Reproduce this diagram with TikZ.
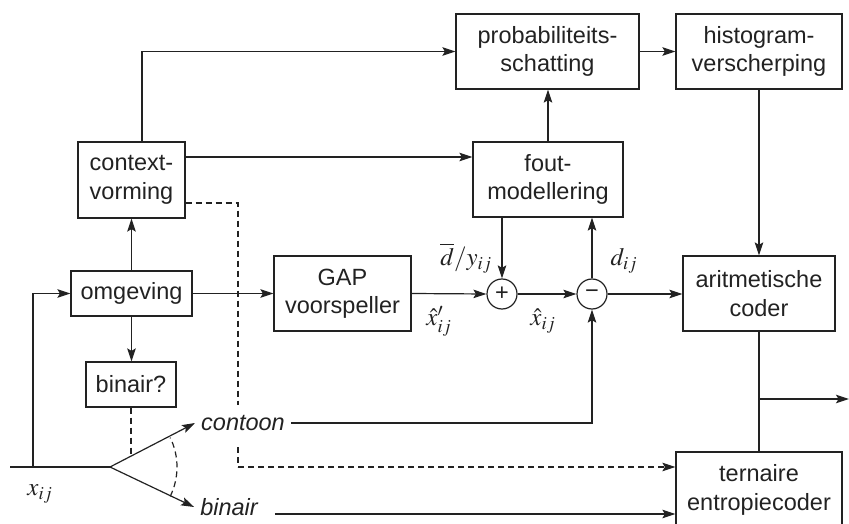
\documentclass[tikz,border=0pt]{standalone}
\usepackage{mathptmx}
\usepackage{fontspec}
\setmainfont{Liberation Sans}
\usetikzlibrary{arrows.meta}
\newcommand\boxfont{\fontsize{23.5}{28.5}\selectfont}
\newcommand\mathlbl{\fontsize{25}{28}\selectfont}
\definecolor{ink}{HTML}{222222}
\tikzset{
  box/.style={draw=ink, line width=1.2pt, inner sep=0pt, align=center, font=\boxfont, text=ink},
  sumnode/.style={draw=ink, line width=1.2pt, circle, inner sep=0pt, minimum size=30pt, font=\boxfont, text=ink},
  wire/.style={draw=ink, line width=1.2pt},
  arr/.style={wire, -{Stealth[length=13pt,width=8.5pt,inset=2.5pt]}},
  dwire/.style={wire, dash pattern=on 6pt off 4pt},
  lbl/.style={inner sep=0pt, font=\mathlbl, text=ink},
  itl/.style={inner xsep=6pt, inner ysep=2pt, font=\boxfont\itshape, text=ink},
}
\begin{document}
\begin{tikzpicture}[x=1pt,y=1pt]
\useasboundingbox (0,0) rectangle (849,-524);
% boxes
\node[box, minimum width=183, minimum height=75] (prob) at (547.5,-51.5) {probabiliteits-\\schatting};
\node[box, minimum width=166, minimum height=75] (histo) at (759,-51.5) {histogram-\\verscherping};
\node[box, minimum width=107, minimum height=76] (ctx) at (131.5,-180) {context-\\vorming};
\node[box, minimum width=150, minimum height=75] (fout) at (548,-179.5) {fout-\\modellering};
\node[box, minimum width=121, minimum height=45] (omg) at (131.5,-293.5) {omgeving};
\node[box, minimum width=137, minimum height=75] (gap) at (342.5,-293.5) {GAP\\voorspeller};
\node[box, minimum width=152, minimum height=75] (ari) at (759,-293.5) {aritmetische\\coder};
\node[box, minimum width=90, minimum height=45] (bin) at (131,-384.5) {binair?};
\node[box, minimum width=166, minimum height=76] (ter) at (759,-490) {ternaire\\entropiecoder};
\node[sumnode] (plus) at (502,-294) {+};
\node[sumnode] (minus) at (592,-294) {\char"2212};
\node[itl] (contoon) at (243,-423) {contoon};
\node[itl] (binair) at (229,-507) {binair};
% coordinates
\coordinate (in) at (10,-467);
\coordinate (tap) at (33,-467);
\coordinate (br) at (110,-467);
\coordinate (d1) at (238,-405);
\coordinate (d2) at (238,-447);
\coordinate (d3) at (238,-467);
\coordinate (tap2) at (759,-399);
\coordinate (out) at (849,-399);
% connectors
\draw[arr] ([xshift=10.5pt]ctx.north) |- (prob.west);
\draw[arr] (prob.east) -- (histo.west);
\draw[arr] (histo.south) -- (ari.north);
\draw[arr] ([yshift=23pt]ctx.east) -- ([yshift=23pt]ctx.east -| fout.west);
\draw[arr] (fout.north) -- (fout.north |- prob.south);
\draw[arr] (fout.south -| plus) -- (plus.north);
\draw[arr] (minus.north) -- (minus.north |- fout.south);
\draw[arr] (minus.east) -- (minus.east -| ari.west);
\draw[arr] (gap.east) -- (plus.west);
\draw[arr] (plus.east) -- (minus.west);
\draw[arr] (omg.east) -- (omg.east -| gap.west);
\draw[arr] (omg.north) -- (ctx.south);
\draw[arr] (omg.south) -- (omg.south |- bin.north);
\draw[wire] (in) -- (br);
\draw[arr] (tap) |- (omg.west);
\draw[arr] (br) -- (contoon.west);
\draw[arr] (br) -- (binair.west);
\draw[dwire] (br) ++(-26:67) arc[start angle=-26, end angle=26, radius=67];
\draw[dwire] (bin.south) -- ++(0,-46);
\draw[arr] (contoon.east) -| (minus.south);
\draw[arr] ([xshift=11pt,yshift=-7pt]binair.east) -- ([yshift=-7pt]binair.east -| ter.west);
\draw[dwire] ([yshift=-23pt]ctx.east) -| (d1);
\draw[dwire] (d2) -- (d3);
\draw[dwire, -{Stealth[length=13pt,width=8.5pt,inset=2.5pt]}] (d3) -- (d3 -| ter.west);
\draw[wire] (ari.south) -- (ter.north);
\draw[arr] (tap2) -- (out);
% labels
\node[lbl] (lx) at (40,-494) {$x_{ij}$};
\node[lbl] (ldy) at (466,-258) {$\overline{d}/y_{ij}$};
\node[lbl] (ld) at (624,-261) {$d_{ij}$};
\node[lbl] (lxp) at (439,-321) {$\hat{x}'_{ij}$};
\node[lbl] (lxh) at (543,-321) {$\hat{x}_{ij}$};
\end{tikzpicture}
\end{document}
